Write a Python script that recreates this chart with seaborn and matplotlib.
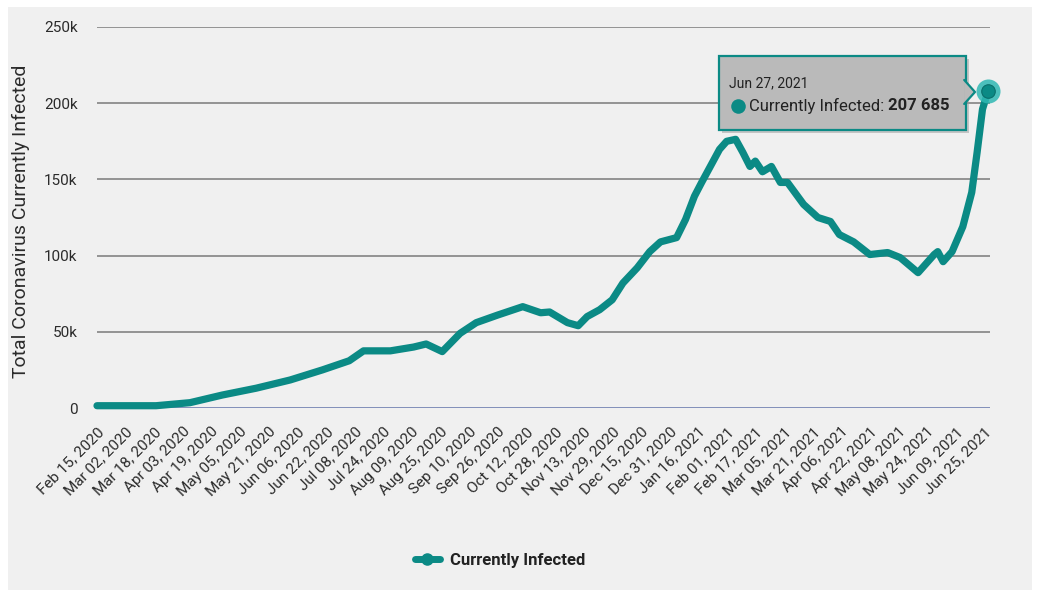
import matplotlib
matplotlib.use("Agg")
import matplotlib.pyplot as plt
from matplotlib.patches import Rectangle, Polygon
from matplotlib.lines import Line2D
import seaborn as sns
import pandas as pd

# ---------------- data ----------------
dates = [
    "2020-02-15", "2020-03-19", "2020-04-07", "2020-04-25", "2020-05-14",
    "2020-06-02", "2020-06-20", "2020-07-05", "2020-07-13", "2020-07-28",
    "2020-08-10", "2020-08-17", "2020-08-26", "2020-09-05", "2020-09-14",
    "2020-09-26", "2020-10-10", "2020-10-20", "2020-10-25", "2020-11-04",
    "2020-11-10", "2020-11-15", "2020-11-22", "2020-11-29", "2020-12-05",
    "2020-12-13", "2020-12-20", "2020-12-26", "2021-01-04", "2021-01-09",
    "2021-01-14", "2021-01-18", "2021-01-24", "2021-01-28", "2021-02-01",
    "2021-02-06", "2021-02-10", "2021-02-14", "2021-02-17", "2021-02-21",
    "2021-02-26", "2021-03-03", "2021-03-07", "2021-03-16", "2021-03-24",
    "2021-03-31", "2021-04-05", "2021-04-13", "2021-04-22", "2021-05-02",
    "2021-05-09", "2021-05-19", "2021-05-28", "2021-05-30", "2021-06-02",
    "2021-06-07", "2021-06-13", "2021-06-18", "2021-06-21", "2021-06-24",
    "2021-06-27",
]
currently_infected = [
    1500, 1500, 3500, 8500, 13000,
    18400, 25000, 31000, 37500, 37500,
    40000, 42000, 37000, 49000, 56000,
    61000, 66500, 62500, 63000, 56000,
    54000, 60000, 64500, 71000, 82000,
    92000, 102600, 109000, 111800, 123700,
    139000, 148000, 161000, 169700, 175000,
    176300, 167800, 158500, 162000, 155000,
    158500, 148000, 148000, 133600, 125000,
    122400, 113800, 109000, 100700, 102000,
    98700, 88800, 100700, 102600, 96000,
    102600, 119000, 141500, 167800, 196000,
    207685,
]
x_tick_labels = [
    "Feb 15, 2020", "Mar 02, 2020", "Mar 18, 2020", "Apr 03, 2020", "Apr 19, 2020",
    "May 05, 2020", "May 21, 2020", "Jun 06, 2020", "Jun 22, 2020", "Jul 08, 2020",
    "Jul 24, 2020", "Aug 09, 2020", "Aug 25, 2020", "Sep 10, 2020", "Sep 26, 2020",
    "Oct 12, 2020", "Oct 28, 2020", "Nov 13, 2020", "Nov 29, 2020", "Dec 15, 2020",
    "Dec 31, 2020", "Jan 16, 2021", "Feb 01, 2021", "Feb 17, 2021", "Mar 05, 2021",
    "Mar 21, 2021", "Apr 06, 2021", "Apr 22, 2021", "May 08, 2021", "May 24, 2021",
    "Jun 09, 2021", "Jun 25, 2021",
]
y_ticks = [0, 50000, 100000, 150000, 200000, 250000]
y_tick_labels = ["0", "50k", "100k", "150k", "200k", "250k"]
series_name = "Currently Infected"
y_title = "Total Coronavirus Currently Infected"
tooltip_date = "Jun 27, 2021"
tooltip_value = "207 685"

# ---------------- style ----------------
sns.set_theme(style="white")
plt.rcParams["font.family"] = ["Roboto", "DejaVu Sans"]

TEAL = "#0b8a85"
HALO = "#2fb8b3"
TEXT = "#2b2b2b"
W, H = 1040, 597

fig = plt.figure(figsize=(W / 100, H / 100), dpi=100, facecolor="white")
fig.patches.append(Rectangle((8 / W, 7 / H), (1032 - 8) / W, (590 - 7) / H,
                             transform=fig.transFigure, facecolor="#f0f0f0",
                             edgecolor="none", zorder=-10))

ax = fig.add_axes([97 / W, 1 - 408 / H, 893 / W, 381 / H])
ax.set_facecolor("none")

df = pd.DataFrame({"Date": pd.to_datetime(dates), series_name: currently_infected})

# grid lines
for v in y_ticks[1:]:
    ax.axhline(v, color="#8c8c8c", lw=1.3, zorder=1)
ax.axhline(0, color="#6f7fb0", lw=1.2, zorder=1)

sns.lineplot(data=df, x="Date", y=series_name, ax=ax, color=TEAL, linewidth=5.2,
             solid_capstyle="round", solid_joinstyle="round", legend=False,
             clip_on=False, zorder=3)

# highlighted last point
last = df.iloc[-1]
ax.scatter([last["Date"]], [last[series_name]], s=300, color=HALO, alpha=0.85,
           zorder=4, clip_on=False, linewidths=0)
ax.scatter([last["Date"]], [last[series_name]], s=95, color=TEAL, zorder=5,
           clip_on=False, edgecolors="#0a6f6b", linewidths=0.8)

start = df["Date"].iloc[0]
end = df["Date"].iloc[-1] + pd.Timedelta(days=1.2)
ax.set_xlim(start, end)
ax.set_ylim(0, 250000)

for s in ax.spines.values():
    s.set_visible(False)

ax.set_yticks(y_ticks)
ax.set_yticklabels(y_tick_labels, fontsize=11, color=TEXT)
ax.tick_params(axis="y", length=0, pad=14)

ax.set_xticks(pd.to_datetime(x_tick_labels, format="%b %d, %Y"))
ax.set_xticklabels(x_tick_labels, rotation=45, ha="right", rotation_mode="anchor",
                   fontsize=11, color=TEXT)
ax.tick_params(axis="x", length=0, pad=12)

ax.set_xlabel("")
ax.set_ylabel(y_title, fontsize=14, color=TEXT)
ax.yaxis.set_label_coords(-(97 - 30) / 893, 0.49)

# ---------------- tooltip ----------------
bx0, by0, bw, bh = 0.6965, 0.7297, 0.2766, 0.1942
shadow = Rectangle((bx0 + 0.003, by0 - 0.008), bw, bh, transform=ax.transAxes,
                   facecolor="#999999", alpha=0.5, edgecolor="none",
                   zorder=6, clip_on=False)
ax.add_patch(shadow)
box = Rectangle((bx0, by0), bw, bh, transform=ax.transAxes, facecolor="#bababa",
                edgecolor=TEAL, lw=1.6, zorder=7, clip_on=False)
ax.add_patch(box)
bx1 = bx0 + bw
tip = [(bx1 - 0.002, 0.861), (0.9832, 0.8294), (bx1 - 0.002, 0.798)]
ax.add_patch(Polygon(tip, closed=True, transform=ax.transAxes, facecolor="#bababa",
                     edgecolor="none", zorder=8, clip_on=False))
ax.add_line(Line2D([p[0] for p in tip], [p[1] for p in tip], transform=ax.transAxes,
                   color=TEAL, lw=1.6, zorder=9, clip_on=False))

ax.text(0.7075, 0.853, tooltip_date, transform=ax.transAxes, fontsize=10,
        color="#222222", va="center", ha="left", zorder=10)
ax.scatter([0.7178], [0.7927], s=110, color=TEAL, transform=ax.transAxes,
           zorder=10, clip_on=False, linewidths=0)
t1 = ax.text(0.7300, 0.7927, series_name + ": ", transform=ax.transAxes,
             fontsize=12, color="#222222", va="center", ha="left", zorder=10)
ax.annotate(tooltip_value, xy=(1, 0.5), xycoords=t1, va="center", ha="left",
            fontsize=12, fontweight="bold", color="#222222", zorder=10)

# ---------------- legend ----------------
handle = Line2D([], [], color=TEAL, lw=5, marker="o", markersize=8,
                markerfacecolor=TEAL, markeredgecolor=TEAL)
fig.legend([handle], [series_name], loc="center", bbox_to_anchor=(500 / W, 1 - 560 / H),
           frameon=False, handlelength=1.5, handletextpad=0.6,
           prop={"size": 12, "weight": "bold", "family": ["Roboto", "DejaVu Sans"]},
           labelcolor="#222222")

fig.savefig("out.png", dpi=100, facecolor=fig.get_facecolor())
